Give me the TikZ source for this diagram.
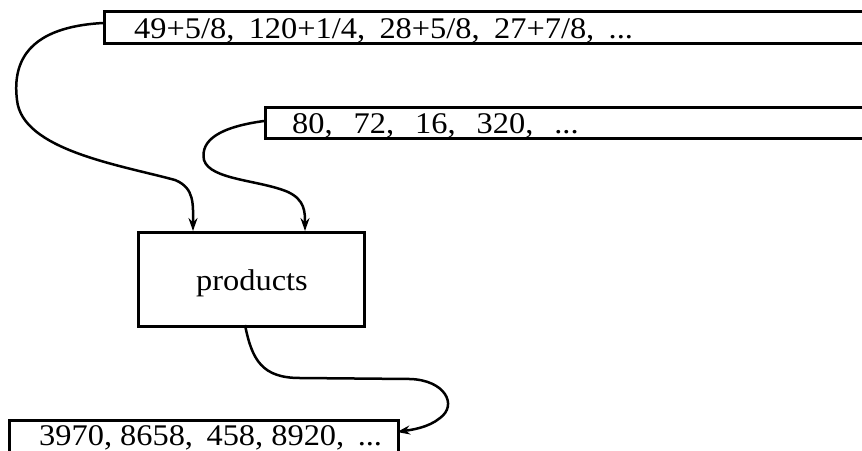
\documentclass[tikz,border=0pt]{standalone}
\usepackage{fontspec}
\setmainfont[FakeStretch=1.08]{Liberation Serif}
\usetikzlibrary{arrows.meta}
\tikzset{
  box/.style={draw, line width=2.5pt, inner sep=0pt, anchor=north west},
  lbl/.style={inner sep=0pt, anchor=base west},
  flow/.style={line width=2.5pt, -{Stealth[length=13pt,width=9pt]}},
}
\begin{document}
\begin{tikzpicture}[x=1pt,y=-1pt]
\useasboundingbox (0,0) rectangle (862,450);
% input stream 1
\node[box, minimum width=790pt, minimum height=32pt] (s1) at (103,10) {};
\node[lbl, font=\fontsize{30}{33}\selectfont] (s1t) at (134,38.5) {49+5/8,\hspace{0.48em}120+1/4,\hspace{0.48em}28+5/8,\hspace{0.48em}27+7/8,\hspace{0.48em}...};
% input stream 2
\node[box, minimum width=630pt, minimum height=31pt] (s2) at (264,106) {};
\node[lbl, font=\fontsize{30}{33}\selectfont] (s2t) at (292,133) {80,\hspace{0.7em}72,\hspace{0.7em}16,\hspace{0.7em}320,\hspace{0.7em}...};
% products
\node[box, minimum width=226pt, minimum height=94pt] (p) at (137,231) {};
\node[inner sep=0pt, anchor=base, font=\fontsize{30}{34}\selectfont] (pt) at (252,290) {products};
% output stream
\node[box, minimum width=389pt, minimum height=60pt] (o) at (8,419) {};
\node[lbl, font=\fontsize{30}{33}\selectfont] (ot) at (39,445) {3970, 8658,\hspace{0.45em}458, 8920,\hspace{0.45em}...};
% connector end points
\coordinate (p1) at (193,231);
\coordinate (p2) at (305,231);
\coordinate (p3) at (245,325);
\coordinate (o1) at (397,432);
\coordinate (a1) at (103,23);
\coordinate (a2) at (264,121);
% connectors
\draw[flow] (a1) .. controls (30,27) and (12,60) .. (17,100)
  .. controls (22,150) and (120,165) .. (175,180)
  .. controls (195,188) and (193,205) .. (p1);
\draw[flow] (a2) .. controls (220,127) and (200,140) .. (204,160)
  .. controls (210,180) and (260,180) .. (288,192)
  .. controls (305,200) and (305,212) .. (p2);
\draw[flow] (p3) .. controls (252,360) and (262,378) .. (300,378)
  -- (410,379) .. controls (445,380) and (458,405) .. (440,418)
  .. controls (428,428) and (410,430) .. (o1);
\end{tikzpicture}
\end{document}
